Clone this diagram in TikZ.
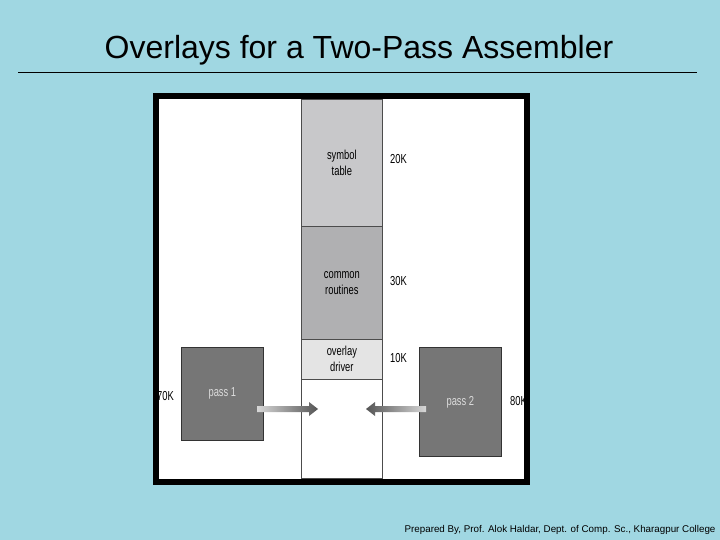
\documentclass[tikz,border=0pt]{standalone}
\usepackage{fontspec}
\setmainfont{Liberation Sans}
\newfontfamily\narrowfont[FakeStretch=0.72]{Liberation Sans}
\usetikzlibrary{calc}
\definecolor{bgblue}{RGB}{160,215,226}
\definecolor{symgray}{RGB}{200,200,202}
\definecolor{comgray}{RGB}{176,176,178}
\definecolor{drvgray}{RGB}{228,228,228}
\definecolor{passgray}{RGB}{118,118,118}
\definecolor{passtext}{RGB}{220,220,220}
\definecolor{arrlight}{RGB}{215,215,215}
\definecolor{arrdark}{RGB}{85,85,85}
\tikzset{
  memblock/.style={draw=black!70, line width=0.7pt, inner sep=0pt, anchor=north west,
    minimum width=81pt, align=center, font=\narrowfont\fontsize{13}{16}\selectfont},
  passbox/.style={draw=black!80, line width=0.7pt, fill=passgray, inner sep=0pt, anchor=north west,
    minimum width=82pt, text=passtext, font=\narrowfont\fontsize{13}{16}\selectfont},
  sizelabel/.style={inner sep=0pt, font=\narrowfont\fontsize{13}{16}\selectfont},
}
\begin{document}
\begin{tikzpicture}[x=1pt,y=-1pt]
\useasboundingbox (0,0) rectangle (720,540);
\fill[bgblue] (0,0) rectangle (720,540);
% title
\node[font=\fontsize{32}{38}\selectfont, anchor=base] (title) at (359,59) {Overlays for a Two-Pass Assembler};
\draw[line width=0.8pt] (18,72) -- (697,72);
% frame interior
\fill[white] (156,96) rectangle (527,482);
% memory column
\node[memblock, fill=symgray, minimum height=127pt] (sym) at (301,99) {symbol\\table};
\node[memblock, fill=comgray, minimum height=113pt] (com) at (301,226) {common\\routines};
\node[memblock, fill=drvgray, minimum height=40pt] (drv) at (301,339) {overlay\\driver};
\node[memblock, fill=white, minimum height=99pt] (free) at (301,379) {};
% size labels
\node[sizelabel, anchor=west] (l20) at (390,159) {20K};
\node[sizelabel, anchor=west] (l30) at (390,281) {30K};
\node[sizelabel, anchor=west] (l10) at (390,358) {10K};
% passes
\node[passbox, minimum height=93pt] (pass1) at (181,347) {pass 1};
\node[passbox, minimum height=109pt] (pass2) at (419,347) {pass 2};
\node[sizelabel, anchor=west] (l70) at (157,396) {70K};
\node[sizelabel, anchor=west] (l80) at (510,401) {80K};
% arrows
\coordinate (a1s) at (257,409);
\coordinate (a1e) at (318,409);
\coordinate (a2s) at (426,409);
\coordinate (a2e) at (366,409);
\shade[left color=arrlight, right color=arrdark]
  ($(a1s)+(0,-3)$) -- ($(a1e)+(-9,-3)$) -- ($(a1e)+(-9,-7)$) -- (a1e) --
  ($(a1e)+(-9,7)$) -- ($(a1e)+(-9,3)$) -- ($(a1s)+(0,3)$) -- cycle;
\shade[left color=arrdark, right color=arrlight]
  ($(a2s)+(0,-3)$) -- ($(a2e)+(9,-3)$) -- ($(a2e)+(9,-7)$) -- (a2e) --
  ($(a2e)+(9,7)$) -- ($(a2e)+(9,3)$) -- ($(a2s)+(0,3)$) -- cycle;
% frame border
\draw[line width=6pt] (156,96) rectangle (527,482);
% footer
\node[font=\fontsize{9.8}{12}\selectfont, anchor=base east] (foot) at (719,532)
  {Prepared By, Prof. Alok Haldar, Dept. of Comp. Sc., Kharagpur College};
\end{tikzpicture}
\end{document}
